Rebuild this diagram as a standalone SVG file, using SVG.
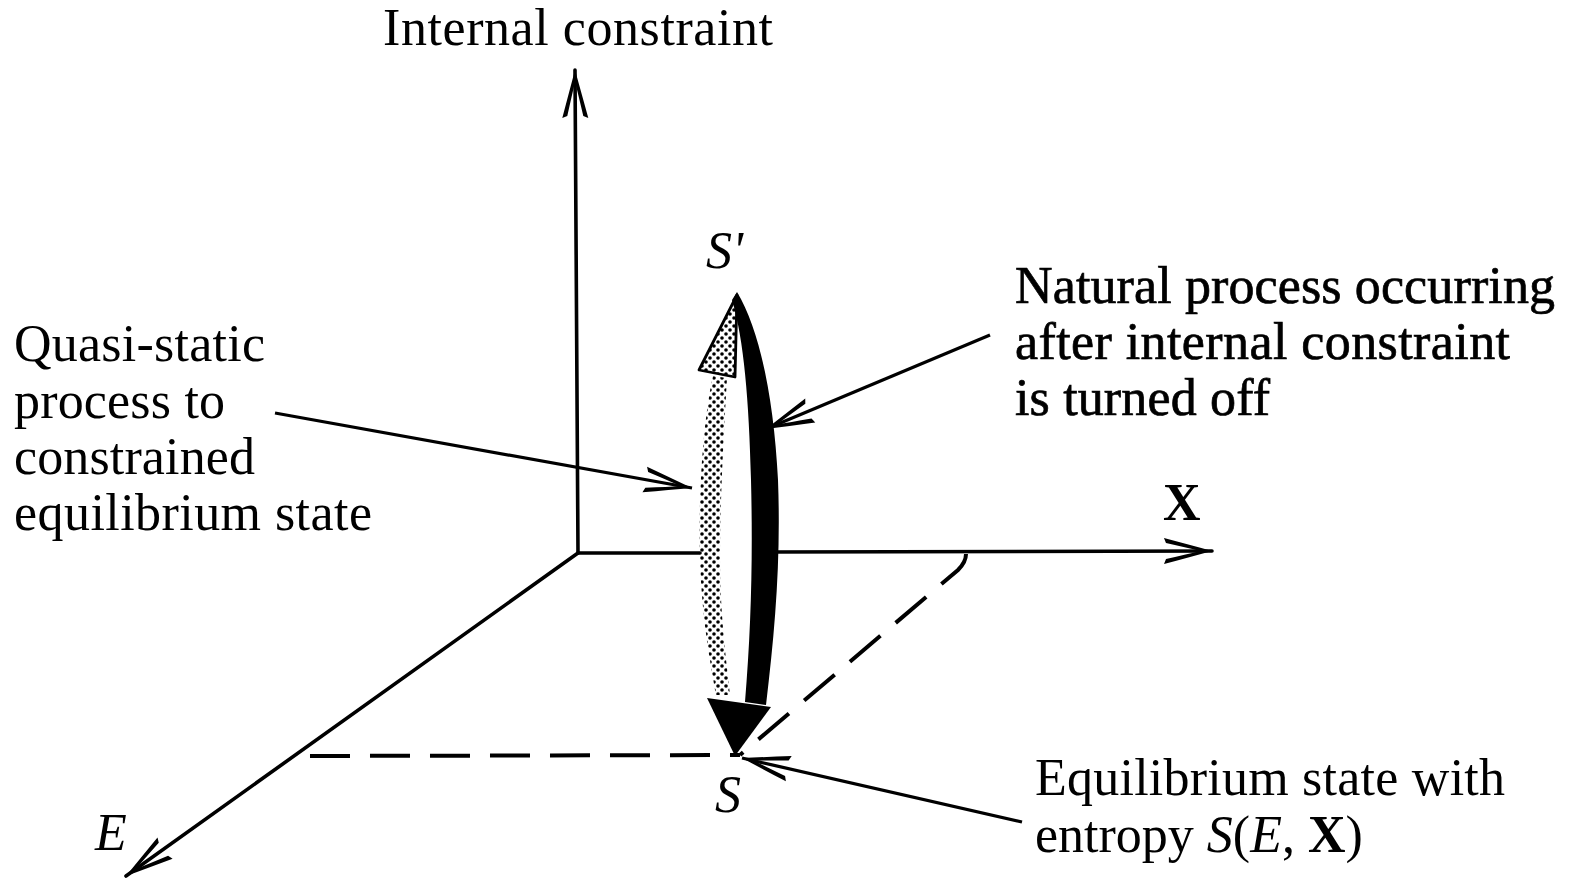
<svg xmlns="http://www.w3.org/2000/svg" width="1574" height="878" viewBox="0 0 1574 878">
<style>
text{font-family:"Liberation Serif","DejaVu Serif",serif;font-size:52px;fill:#000}
.it{font-style:italic}
.bd{font-weight:bold}
.heavy{stroke:#000;stroke-width:0.7}
.ax{stroke:#000;stroke-width:3.6;fill:none;stroke-linecap:round}
.dash{stroke:#000;stroke-width:4;fill:none;stroke-dasharray:40 20}
.ptr{stroke:#000;stroke-width:3.2;fill:none}
</style>
<defs>
<marker id="barb" markerUnits="userSpaceOnUse" markerWidth="60" markerHeight="40" refX="0" refY="0" viewBox="-50 -20 55 40" orient="auto" overflow="visible">
<path d="M0,0 Q-22,-6 -48,-13 L-46,-8 Q-24,-3 -12,0 Q-24,3 -46,8 L-48,13 Q-22,6 0,0 Z" fill="#000"/>
</marker>
<pattern id="stip" patternUnits="userSpaceOnUse" width="8" height="8">
<circle cx="2" cy="2" r="1.8" fill="#000"/>
<circle cx="6" cy="6" r="1.8" fill="#000"/>
</pattern>
</defs>
<g id="axes">
<path class="ax" d="M578,553 L575,70" marker-end="url(#barb)"/>
<path class="ax" d="M578,553 L700,553"/>
<path class="ax" d="M772,552 L1212,551" marker-end="url(#barb)"/>
<path class="ax" d="M578,553 L126,876" marker-end="url(#barb)"/>
<path class="dash" d="M310,756 L740,755"/>
<path class="dash" d="M966,554 Q966,562 958,570 L740,755"/>
</g>
<g id="quasi-static-arrow">
<path d="M713,376 C703,420 698,500 700,560 C702,620 710,660 716,695 L730,695 C725,650 720,610 720,560 C720,500 724,430 727,378 Z" fill="url(#stip)"/>
<path d="M737,295 L699,370 L735,377 Z" fill="url(#stip)" stroke="#000" stroke-width="2.8" stroke-linejoin="round"/>
</g>
<g id="natural-arrow">
<path d="M737,292 C760,330 774,400 778,480 C781,560 775,630 766,705 L745,702 C751,630 753,560 751,480 C749,400 744,340 732,300 Z" fill="#000"/>
<path d="M707,698 L771,707 L735,756 Z" fill="#000"/>
</g>
<g id="connectors">
<path class="ptr" d="M275,413 L692,488" marker-end="url(#barb)"/>
<path class="ptr" d="M990,335 L766,429" marker-end="url(#barb)"/>
<path class="ptr" d="M1022,822 L742,758" marker-end="url(#barb)"/>
</g>
<g id="labels">
<text x="383" y="45" textLength="390">Internal constraint</text>
<text class="bd" x="1163" y="520" font-size="46">X</text>
<text class="it" x="95" y="850">E</text>
<text class="it" x="706" y="268">S'</text>
<text class="it" x="715" y="812">S</text>
</g>
<g id="quasi-label">
<text x="14" y="361" textLength="251">Quasi-static</text>
<text x="14" y="418" textLength="211">process to</text>
<text x="14" y="474" textLength="241">constrained</text>
<text x="14" y="530" textLength="358">equilibrium state</text>
</g>
<g id="natural-label">
<text class="heavy" x="1015" y="303" textLength="540">Natural process occurring</text>
<text class="heavy" x="1015" y="359" textLength="495">after internal constraint</text>
<text class="heavy" x="1015" y="415" textLength="255">is turned off</text>
</g>
<g id="equilibrium-label">
<text x="1035" y="795" textLength="470">Equilibrium state with</text>
<text x="1035" y="852">entropy <tspan class="it">S</tspan>(<tspan class="it">E</tspan>, <tspan class="bd">X</tspan>)</text>
</g>
</svg>
